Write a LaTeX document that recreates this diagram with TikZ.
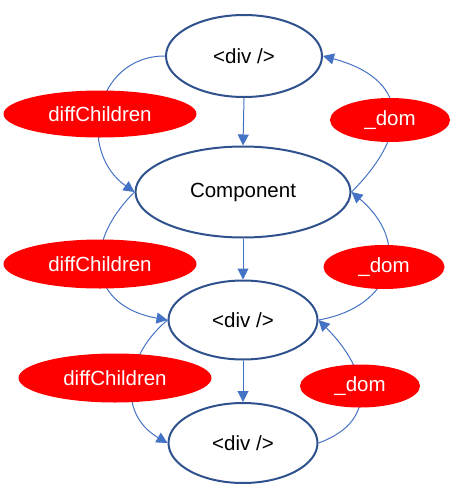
\documentclass[tikz,border=0pt]{standalone}
\usepackage{fontspec}
\setmainfont{Liberation Sans}
\usetikzlibrary{shapes.geometric,arrows.meta}
\definecolor{darkb}{HTML}{2F528F}
\definecolor{lineb}{HTML}{4472C4}
\begin{document}
\begin{tikzpicture}[x=1pt,y=1pt,
  every node/.style={font=\fontsize{20.5}{24}\selectfont},
  mainnode/.style={ellipse,draw=darkb,line width=2pt,fill=white,inner sep=0pt,text=black},
  tagnode/.style={ellipse,fill=red,text=white,inner sep=0pt},
  conn/.style={draw=lineb,line width=1pt,-{Triangle[length=11pt,width=11pt]}}]
\useasboundingbox (0,0) rectangle (461,-491);
% main nodes
\node[mainnode,minimum width=156pt,minimum height=82pt] (d1) at (244,-56) {<div />};
\node[mainnode,minimum width=215pt,minimum height=91pt] (comp) at (243,-192) {Component};
\node[mainnode,minimum width=149pt,minimum height=79pt] (d2) at (243,-320) {<div />};
\node[mainnode,minimum width=149pt,minimum height=80pt] (d3) at (243,-443) {<div />};
% straight connectors
\draw[conn] (d1.south) -- (comp.north);
\draw[conn] (comp.south) -- (d2.north);
\draw[conn] (d2.south) -- (d3.north);
% left curves
\draw[conn] (d1.west) to[out=180,in=145,looseness=1.3] (comp.west);
\draw[conn] (comp.west) to[out=-135,in=170,looseness=1.5] (d2.west);
\draw[conn] (d2.west) to[out=-140,in=150,looseness=1.2] (d3.west);
% right curves
\draw[conn] (comp.east) to[out=45,in=-15,looseness=1.6] (d1.east);
\draw[conn] (d2.east) to[out=10,in=-40,looseness=1.5] (comp.east);
\draw[conn] (d3.east) to[out=20,in=-45,looseness=1.4] (d2.east);
% red tags
\node[tagnode,minimum width=193pt,minimum height=47pt] (dc1) at (100,-114) {diffChildren};
\node[tagnode,minimum width=120pt,minimum height=44pt] (dom1) at (390,-120) {\_dom};
\node[tagnode,minimum width=193pt,minimum height=49pt] (dc2) at (100,-264) {diffChildren};
\node[tagnode,minimum width=121pt,minimum height=44pt] (dom2) at (384,-267) {\_dom};
\node[tagnode,minimum width=193pt,minimum height=49pt] (dc3) at (115,-378) {diffChildren};
\node[tagnode,minimum width=120pt,minimum height=43pt] (dom3) at (360,-386) {\_dom};
\end{tikzpicture}
\end{document}
